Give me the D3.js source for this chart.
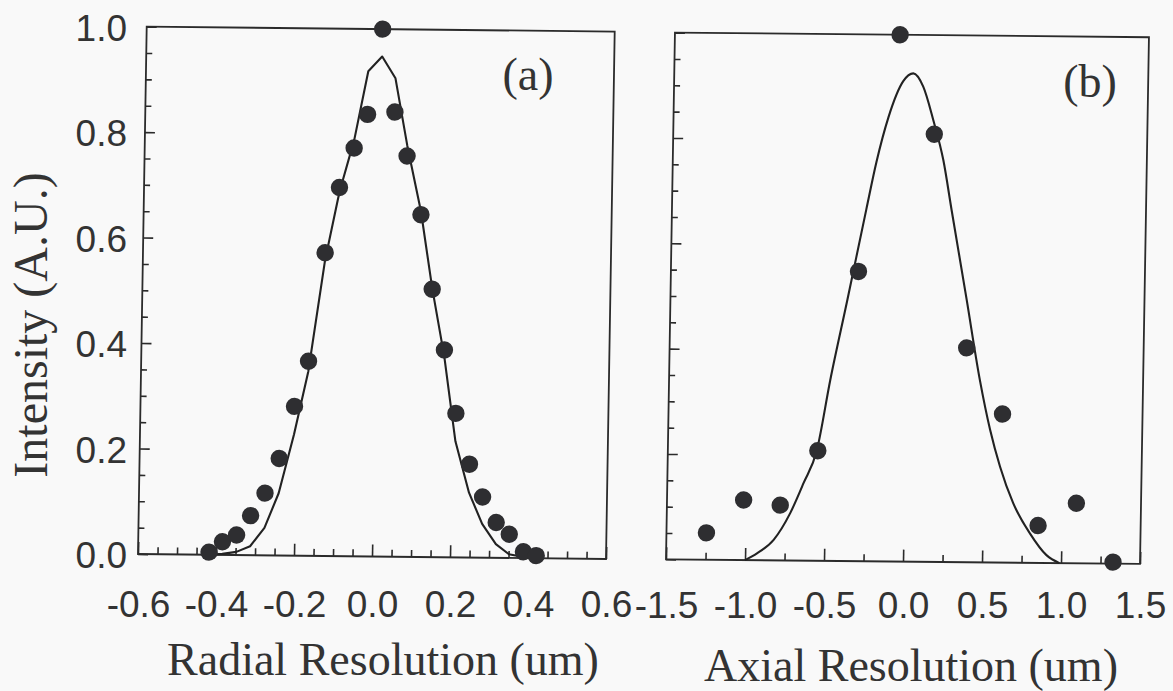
<!DOCTYPE html>
<html>
<head>
<meta charset="utf-8">
<script src="https://cdn.jsdelivr.net/npm/d3@7"></script>
<style>
  html, body { margin: 0; padding: 0; background: #f9f9f9; }
  svg { display: block; }
</style>
</head>
<body>
<svg id="chart" width="1173" height="691"></svg>
<script>
// ---------- data ----------
// Panel (a): radial profile
const radialX = [-0.418,-0.384,-0.348,-0.313,-0.277,-0.242,-0.205,-0.171,-0.133,-0.099,-0.063,-0.030,0.005,0.040,0.073,0.111,0.143,0.177,0.209,0.246,0.281,0.317,0.351,0.388,0.421];
const radialY = [0.005,0.025,0.038,0.075,0.118,0.184,0.283,0.369,0.575,0.699,0.774,0.838,1.0,0.843,0.760,0.649,0.508,0.393,0.273,0.177,0.115,0.067,0.045,0.012,0.005];
const radialFitY = [0.0,0.002,0.006,0.017,0.052,0.118,0.23,0.35,0.56,0.69,0.79,0.92,0.948,0.907,0.78,0.655,0.51,0.38,0.22,0.123,0.064,0.026,0.007,0.002,0.0];

// Panel (b): axial profile
const axialX = [-1.247,-1.015,-0.783,-0.551,-0.313,-0.075,0.152,0.380,0.614,0.851,1.091,1.329];
const axialY = [0.051,0.114,0.105,0.209,0.550,1.0,0.812,0.407,0.282,0.071,0.114,0.003];
const axialFitX = [-1.0,-0.925,-0.821,-0.719,-0.638,-0.557,-0.48,-0.38,-0.27,-0.211,-0.14,-0.05,0.013,0.077,0.144,0.212,0.27,0.375,0.467,0.537,0.604,0.691,0.80,0.907,0.99];
const axialFitY = [0.0,0.013,0.039,0.09,0.147,0.21,0.343,0.496,0.668,0.758,0.843,0.912,0.927,0.902,0.839,0.763,0.668,0.498,0.346,0.252,0.182,0.113,0.056,0.015,0.0];

// Tick values and labels
const radialMajorTicks = [-0.6,-0.4,-0.2,0.0,0.2,0.4,0.6];
const radialTickLabels = ["-0.6","-0.4","-0.2","0.0","0.2","0.4","0.6"];
const radialMinorTicks = [-0.55,-0.5,-0.45,-0.35,-0.3,-0.25,-0.15,-0.1,-0.05,0.05,0.1,0.15,0.25,0.3,0.35,0.45,0.5,0.55];
const axialMajorTicks = [-1.5,-1.0,-0.5,0.0,0.5,1.0,1.5];
const axialTickLabels = ["-1.5","-1.0","-0.5","0.0","0.5","1.0","1.5"];
const axialMinorTicks = [-1.25,-0.75,-0.25,0.25,0.75,1.25];
const yMajorTicks = [0.0,0.2,0.4,0.6,0.8,1.0];
const yTickLabels = ["0.0","0.2","0.4","0.6","0.8","1.0"];
const yMinorTicks = [0.05,0.1,0.15,0.25,0.3,0.35,0.45,0.5,0.55,0.65,0.7,0.75,0.85,0.9,0.95];

// ---------- drawing ----------
const svg = d3.select("#chart");
const ink = "#2b2b2b";
const sansFont = "'Liberation Sans', Arial, Helvetica, sans-serif";
const serifFont = "'Liberation Serif', 'Times New Roman', serif";

svg.append("rect").attr("width", 1173).attr("height", 691).attr("fill", "#f9f9f9");

function drawPanel(cfg) {
  const x = d3.scaleLinear().domain(cfg.xDomain).range([cfg.x0, cfg.x1]);
  const y = d3.scaleLinear().domain([0, 1]).range([cfg.yb, cfg.yt]);
  // slight skew like the scanned original
  const m = `matrix(1,${cfg.ky},${-cfg.kx},1,${cfg.kx * cfg.yb},${-cfg.ky * cfg.x0})`;
  const g = svg.append("g").attr("transform", m);

  // ticks (inward)
  const tickStyle = sel => {
    sel.select(".domain").remove();
    sel.selectAll("line").attr("stroke", ink).attr("stroke-width", 1.6);
  };
  g.append("g").attr("transform", `translate(0,${cfg.yb})`)
    .call(d3.axisBottom(x).tickValues(cfg.minor).tickSize(-7).tickFormat(""))
    .call(tickStyle);
  g.append("g").attr("transform", `translate(0,${cfg.yb})`)
    .call(d3.axisBottom(x).tickValues(cfg.major).tickSize(-12).tickFormat(""))
    .call(tickStyle);
  g.append("g").attr("transform", `translate(${cfg.x0},0)`)
    .call(d3.axisLeft(y).tickValues(yMinorTicks).tickSize(-6).tickFormat(""))
    .call(tickStyle);
  g.append("g").attr("transform", `translate(${cfg.x0},0)`)
    .call(d3.axisLeft(y).tickValues(yMajorTicks).tickSize(-10).tickFormat(""))
    .call(tickStyle);

  // frame
  g.append("rect")
    .attr("x", cfg.x0).attr("y", cfg.yt)
    .attr("width", cfg.x1 - cfg.x0).attr("height", cfg.yb - cfg.yt)
    .attr("fill", "none").attr("stroke", ink).attr("stroke-width", 1.8);

  // fit curve
  const line = d3.line()
    .x(d => x(d[0])).y(d => y(d[1]))
    .curve(cfg.curve);
  g.append("path")
    .datum(d3.zip(cfg.fitX, cfg.fitY))
    .attr("d", line)
    .attr("fill", "none").attr("stroke", "#222").attr("stroke-width", 2.1)
    .attr("stroke-linejoin", "round");

  // data dots
  g.append("g").selectAll("circle")
    .data(d3.zip(cfg.dataX, cfg.dataY))
    .join("circle")
    .attr("cx", d => x(d[0])).attr("cy", d => y(d[1]))
    .attr("r", 8.7)
    .attr("fill", "#2e2e31");

  // x tick labels (unskewed)
  const lab = svg.append("g").attr("transform", `translate(0,${cfg.yb})`)
    .call(d3.axisBottom(x).tickValues(cfg.major).tickSize(0).tickPadding(cfg.xPad)
      .tickFormat((d, i) => cfg.labels[i]));
  lab.select(".domain").remove();
  lab.selectAll("text").attr("font-family", sansFont).attr("font-size", 37).attr("fill", "#333");

  // panel tag
  svg.append("text").attr("x", cfg.tagX).attr("y", cfg.tagY)
    .attr("text-anchor", "middle")
    .attr("font-family", serifFont).attr("font-size", 46).attr("fill", "#333")
    .text(cfg.tag);

  // axis title
  svg.append("text").attr("x", cfg.titleX).attr("y", cfg.titleY)
    .attr("text-anchor", "middle")
    .attr("font-family", serifFont).attr("font-size", 46).attr("fill", "#333")
    .text(cfg.title);

  return { x, y };
}

const pa = drawPanel({
  xDomain: [-0.6, 0.6], x0: 138, x1: 606, yb: 554, yt: 26.6, kx: 0.0165, ky: 0.0107,
  major: radialMajorTicks, minor: radialMinorTicks, labels: radialTickLabels, xPad: 37,
  dataX: radialX, dataY: radialY, fitX: radialX, fitY: radialFitY, curve: d3.curveLinear,
  tag: "(a)", tagX: 528, tagY: 90, title: "Radial Resolution (um)", titleX: 383, titleY: 675
});

drawPanel({
  xDomain: [-1.5, 1.5], x0: 666, x1: 1140, yb: 559.3, yt: 32.6, kx: 0.017, ky: 0.0098,
  major: axialMajorTicks, minor: axialMinorTicks, labels: axialTickLabels, xPad: 32,
  dataX: axialX, dataY: axialY, fitX: axialFitX, fitY: axialFitY, curve: d3.curveMonotoneX,
  tag: "(b)", tagX: 1090, tagY: 97, title: "Axial Resolution (um)", titleX: 911, titleY: 681
});

// y tick labels for panel (a) (unskewed)
const yl = svg.append("g").attr("transform", "translate(138,2)")
  .call(d3.axisLeft(pa.y).tickValues(yMajorTicks).tickSize(0).tickPadding(11)
    .tickFormat((d, i) => yTickLabels[i]));
yl.select(".domain").remove();
yl.selectAll("text").attr("font-family", sansFont).attr("font-size", 37).attr("fill", "#333");

// y axis title
svg.append("text")
  .attr("transform", "translate(47,325) rotate(-90)")
  .attr("text-anchor", "middle")
  .attr("font-family", serifFont).attr("font-size", 48).attr("fill", "#333")
  .text("Intensity (A.U.)");
</script>
</body>
</html>
